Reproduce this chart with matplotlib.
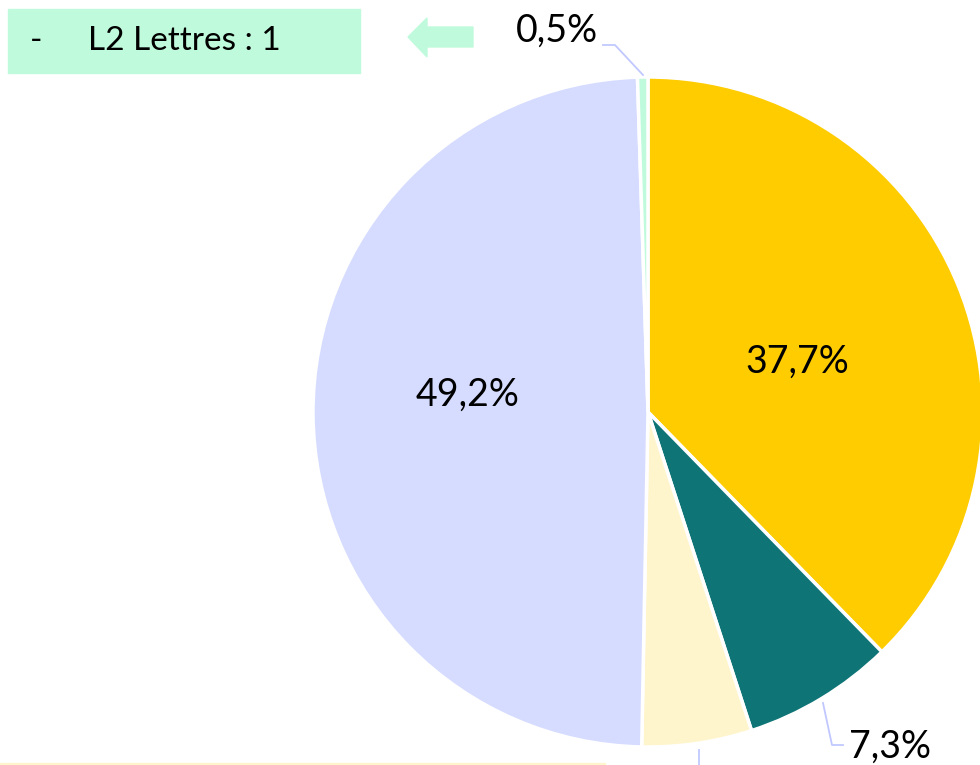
import matplotlib
matplotlib.use("Agg")
import matplotlib.pyplot as plt
from matplotlib.patches import Rectangle, Polygon

plt.rcParams['font.family'] = ['Lato', 'DejaVu Sans']

# parts of the pie, clockwise from 12 o'clock
labels = ['A', 'B', 'C', 'D', 'L2 Lettres']
values = [37.7, 7.3, 5.3, 49.2, 0.5]
colors = ['#FFCC00', '#0E7476', '#FFF5CC', '#D6DCFF', '#C0FADC']
box_text = 'L2 Lettres : 1'

H = 765
fig = plt.figure(figsize=(9.8, 7.65), dpi=100)
ax = fig.add_axes([0, 0, 1, 1])


def fmt(p):
    return (f'{p:.1f}%').replace('.', ',') if p > 20 else ''


wedges, texts, autotexts = ax.pie(values, colors=colors, startangle=90, counterclock=False,
                                  center=(648, H - 412), radius=335, autopct=fmt, pctdistance=0.5,
                                  wedgeprops=dict(edgecolor='white', linewidth=2.5),
                                  textprops=dict(fontsize=27, color='black'))
# Excel-like label spots inside the two big slices
autotexts[0].set_position((797, H - 362))
autotexts[3].set_position((468, H - 395))

ax.set_xlim(0, 980)
ax.set_ylim(0, H)
ax.set_aspect('equal')
ax.axis('off')

# outside labels with leader lines
lc = '#C0C8FF'
ax.plot([603, 615, 643], [H - 45, H - 45, H - 75], color=lc, lw=1.3)
ax.text(557, H - 31, (f'{values[4]:.1f}%').replace('.', ','), fontsize=27, ha='center', va='center')
ax.plot([823, 832, 843], [H - 703, H - 745, H - 745], color=lc, lw=1.3)
ax.text(890, H - 747, (f'{values[1]:.1f}%').replace('.', ','), fontsize=27, ha='center', va='center')
ax.plot([699, 699], [H - 750, 0], color=lc, lw=1.3)

# legend-like box at top left
ax.add_patch(Rectangle((8, H - 73), 352, 64, color='#C0FADC', zorder=1))
ax.text(30, H - 41, '-', fontsize=24, va='center')
ax.text(88, H - 41, box_text, fontsize=24, va='center')

# arrow pointing left
ax.add_patch(Polygon([(408, H - 37), (427, H - 18), (427, H - 27), (473, H - 27),
                      (473, H - 47), (427, H - 47), (427, H - 57)], closed=True,
                     color='#C0FADC'))

# top edge of a box cut off at the bottom
ax.add_patch(Rectangle((0, 0), 605, 2, color='#FFF5CC'))

fig.savefig('out.png', dpi=100)
